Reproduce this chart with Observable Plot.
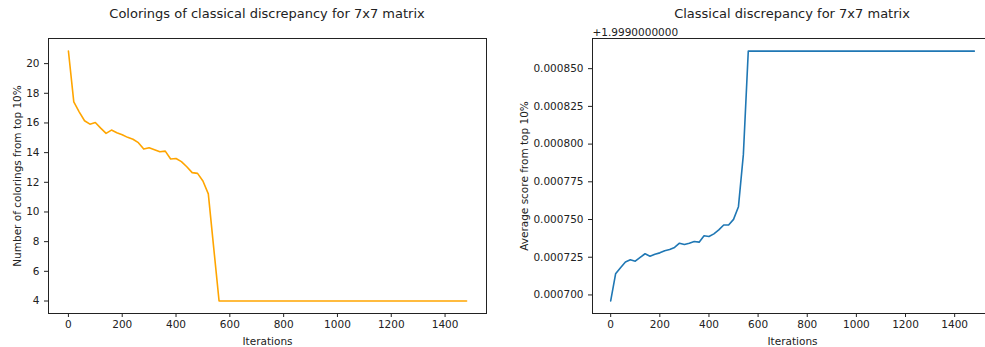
<!DOCTYPE html>
<html><head><meta charset="utf-8">
<script src="https://cdn.jsdelivr.net/npm/d3@7"></script>
<script src="https://cdn.jsdelivr.net/npm/@observablehq/plot@0.6"></script>
<style>
html,body{margin:0;padding:0;background:#fff;overflow:hidden;width:985px;height:347px;}
.panel{position:absolute;top:0;}
.title{position:absolute;font-family:"DejaVu Sans";font-size:13px;color:#222;white-space:nowrap;transform:translateX(-50%);line-height:1;}
</style></head><body>
<div id="left" class="panel" style="left:0;width:492px;height:347px"></div>
<div id="right" class="panel" style="left:492px;width:500px;height:347px"></div>
<div class="title" style="left:267px;top:7px">Colorings of classical discrepancy for 7x7 matrix</div>
<div class="title" style="left:792px;top:7px">Classical discrepancy for 7x7 matrix</div>
<script>
const iterations = [0,20,40,60,80,100,120,140,160,180,200,220,240,260,280,300,320,340,360,380,400,420,440,460,480,500,520,540,
  560,580,600,620,640,660,680,700,720,740,760,780,800,820,840,860,880,900,920,940,960,980,1000,1020,1040,1060,1080,1100,
  1120,1140,1160,1180,1200,1220,1240,1260,1280,1300,1320,1340,1360,1380,1400,1420,1440,1460,1480];
const colorings = [20.85,17.42,16.75,16.15,15.92,16.03,15.65,15.3,15.52,15.34,15.2,15.03,14.9,14.67,14.24,14.33,14.2,14.06,14.1,13.57,13.6,13.39,13.05,12.65,12.6,12.09,11.22,7.6,
  4,4,4,4,4,4,4,4,4,4,
  4,4,4,4,4,4,4,4,4,4,
  4,4,4,4,4,4,4,4,4,4,
  4,4,4,4,4,4,4,4,4,4,
  4,4,4,4,4,4,4];
const scoreBase = "+1.9990000000";
const scoreOffset = [0.000696,0.000714,0.000718,0.0007218,0.0007233,0.0007224,0.0007249,0.0007273,0.0007257,0.000727,0.0007279,0.0007293,0.0007301,0.0007315,0.0007343,0.0007334,0.0007343,0.0007354,0.000735,0.0007392,0.0007387,0.0007405,0.0007431,0.0007464,0.0007464,0.0007501,0.0007585,0.000793,
  0.0008616,0.0008616,0.0008616,0.0008616,0.0008616,0.0008616,0.0008616,0.0008616,0.0008616,0.0008616,
  0.0008616,0.0008616,0.0008616,0.0008616,0.0008616,0.0008616,0.0008616,0.0008616,0.0008616,0.0008616,
  0.0008616,0.0008616,0.0008616,0.0008616,0.0008616,0.0008616,0.0008616,0.0008616,0.0008616,0.0008616,
  0.0008616,0.0008616,0.0008616,0.0008616,0.0008616,0.0008616,0.0008616,0.0008616,0.0008616,0.0008616,
  0.0008616,0.0008616,0.0008616,0.0008616,0.0008616,0.0008616,0.0008616];
const xTicks = [0,200,400,600,800,1000,1200,1400];
const leftYTicks = [4,6,8,10,12,14,16,18,20];
const rightYTicks = [0.0007,0.000725,0.00075,0.000775,0.0008,0.000825,0.00085];

const leftData = iterations.map((x, i) => ({x, y: colorings[i]}));
const rightData = iterations.map((x, i) => ({x, y: scoreOffset[i]}));

const baseStyle = {fontFamily: "DejaVu Sans", fontSize: "10.5px", background: "white", color: "#222", overflow: "visible"};
const axisColor = "#222";
const intFmt = d => String(d);

const left = Plot.plot({
  width: 492, height: 347,
  marginLeft: 48, marginRight: 6, marginTop: 38, marginBottom: 34,
  style: baseStyle,
  x: {domain: [-74, 1554]},
  y: {domain: [3.1575, 21.6925]},
  marks: [
    Plot.frame({stroke: axisColor, strokeWidth: 1}),
    Plot.axisX({ticks: xTicks, tickFormat: intFmt, tickSize: 4, tickPadding: 3, stroke: axisColor, label: "Iterations", labelAnchor: "center", labelOffset: 31, labelArrow: "none"}),
    Plot.axisY({ticks: leftYTicks, tickFormat: intFmt, tickSize: 4, tickPadding: 5, stroke: axisColor, label: "Number of colorings from top 10%", labelAnchor: "center", labelOffset: 35, labelArrow: "none"}),
    Plot.line(leftData, {x: "x", y: "y", stroke: "#ffa500", strokeWidth: 1.6})
  ]
});
document.getElementById("left").appendChild(left);

const right = Plot.plot({
  width: 500, height: 347,
  marginLeft: 100, marginRight: 0, marginTop: 38, marginBottom: 34,
  style: baseStyle,
  x: {domain: [-74, 1554]},
  y: {domain: [0.0006877, 0.00087]},
  marks: [
    Plot.frame({stroke: axisColor, strokeWidth: 1}),
    Plot.axisX({ticks: xTicks, tickFormat: intFmt, tickSize: 4, tickPadding: 3, stroke: axisColor, label: "Iterations", labelAnchor: "center", labelOffset: 31, labelArrow: "none"}),
    Plot.axisY({ticks: rightYTicks, tickFormat: d => d.toFixed(6), tickSize: 4, tickPadding: 5, stroke: axisColor, label: "Average score from top 10%", labelAnchor: "center", labelOffset: 72, labelArrow: "none"}),
    Plot.text([scoreBase], {text: d => d, frameAnchor: "top-left", textAnchor: "start", lineAnchor: "bottom", dy: -3, fill: "#222"}),
    Plot.line(rightData, {x: "x", y: "y", stroke: "#1f77b4", strokeWidth: 1.6})
  ]
});
document.getElementById("right").appendChild(right);
</script>
</body></html>
